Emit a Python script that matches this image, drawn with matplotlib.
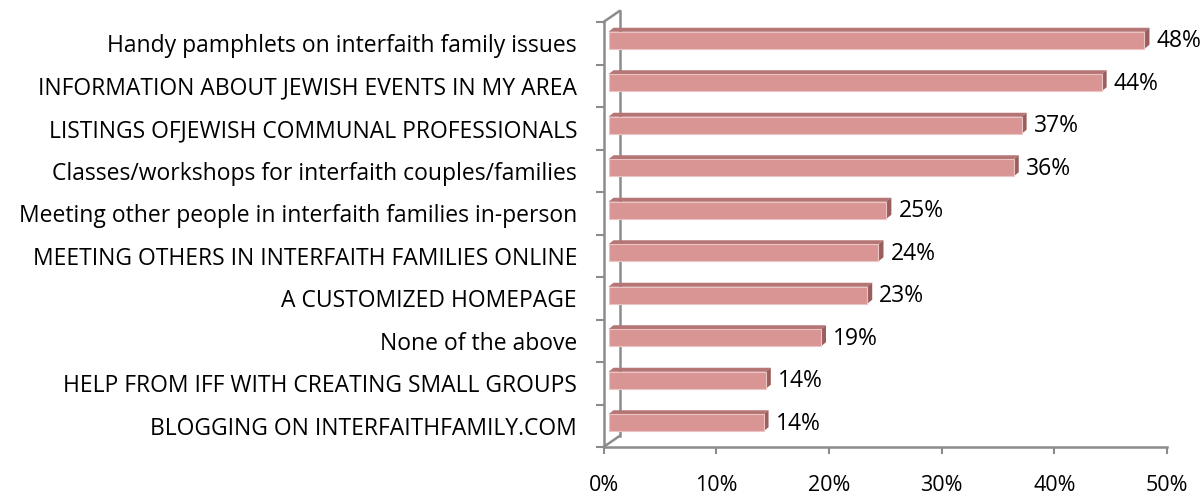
import numpy as np
import matplotlib
matplotlib.use('Agg')
import matplotlib.pyplot as plt
from matplotlib.patches import Polygon
from matplotlib.lines import Line2D

categories = ['Handy pamphlets on interfaith family issues',
              'INFORMATION ABOUT JEWISH EVENTS IN MY AREA',
              'LISTINGS OFJEWISH COMMUNAL PROFESSIONALS',
              'Classes/workshops for interfaith couples/families',
              'Meeting other people in interfaith families in-person',
              'MEETING OTHERS IN INTERFAITH FAMILIES ONLINE',
              'A CUSTOMIZED HOMEPAGE',
              'None of the above',
              'HELP FROM IFF WITH CREATING SMALL GROUPS',
              'BLOGGING ON INTERFAITHFAMILY.COM']
values = [48.0, 44.2, 37.1, 36.4, 25.1, 24.4, 23.4, 19.3, 14.4, 14.2]
value_labels = ['48%', '44%', '37%', '36%', '25%', '24%', '23%', '19%', '14%', '14%']
xticks = [0, 10, 20, 30, 40, 50]

plt.rcParams['font.family'] = ['Open Sans', 'DejaVu Sans']
FS = 16.5

W, H = 1204, 500
fig = plt.figure(figsize=(W / 100, H / 100), dpi=100)
# axes box in pixels: x 603.5 -> 1167, y 22 -> 447
ax_l, ax_r, ax_t, ax_b = 603.5, 1167.0, 22.0, 447.0
ax = fig.add_axes([ax_l / W, 1 - ax_b / H, (ax_r - ax_l) / W, (ax_b - ax_t) / H])
n = len(categories)
ax.set_xlim(0, 50)
ax.set_ylim(-0.5, n - 0.5)

# pixel -> data
px = 50 / (ax_r - ax_l)
py = n / (ax_b - ax_t)

front = '#D99594'
top_c = '#B47574'
side_c = '#9A5E5D'
axis_c = '#8C8C8C'

ypos = np.arange(n)[::-1]
bh = 17 * py
yshift = 3 * py
x0 = 5 * px
ddx, ddy = 5 * px, 4 * py
for y, v, lab in zip(ypos, values, value_labels):
    yc = y + yshift
    ax.barh(yc, v - x0, left=x0, height=bh, color=front, edgecolor='#EBC4C3',
            linewidth=0.8, zorder=4)
    yt = yc + bh / 2
    yb = yc - bh / 2
    ax.add_patch(Polygon([(x0, yt), (v, yt), (v + ddx, yt + ddy), (x0 + ddx, yt + ddy)],
                         closed=True, facecolor=top_c, edgecolor='none', zorder=3))
    ax.add_patch(Polygon([(v, yb), (v, yt), (v + ddx, yt + ddy), (v + ddx, yb + ddy)],
                         closed=True, facecolor=side_c, edgecolor='none', zorder=3))
    ax.text(v + ddx + 7 * px, yc - 1 * py, lab, va='center', ha='left', fontsize=FS,
            color='#000000', zorder=5)

# 3d wall lines
wx, wy = 16 * px, 11 * py
ax.add_line(Line2D([0, wx], [-0.5, -0.5 + wy], color=axis_c, lw=1.8, clip_on=False, zorder=2))
ax.add_line(Line2D([wx, wx], [-0.5 + wy, n - 0.5 + wy], color=axis_c, lw=1.8, clip_on=False, zorder=2))
ax.add_line(Line2D([0, wx], [n - 0.5, n - 0.5 + wy], color=axis_c, lw=1.8, clip_on=False, zorder=2))

for s in ['top', 'right']:
    ax.spines[s].set_visible(False)
for s in ['left', 'bottom']:
    ax.spines[s].set_color(axis_c)
    ax.spines[s].set_linewidth(1.8)

ax.set_xticks(xticks)
ax.set_xticklabels([f'{t}%' for t in xticks], fontsize=15.5)
ax.set_yticks(np.arange(n + 1) - 0.5)
ax.set_yticklabels([])
ax.set_yticks(ypos, minor=True)
ax.set_yticklabels(categories, minor=True, fontsize=FS)
ax.tick_params(axis='y', which='major', length=6, width=1.5, color=axis_c)
ax.tick_params(axis='y', which='minor', length=0, pad=19)
ax.tick_params(axis='x', length=5, width=1.5, color=axis_c, pad=15)

fig.savefig('out.png', dpi=100, facecolor='white')
